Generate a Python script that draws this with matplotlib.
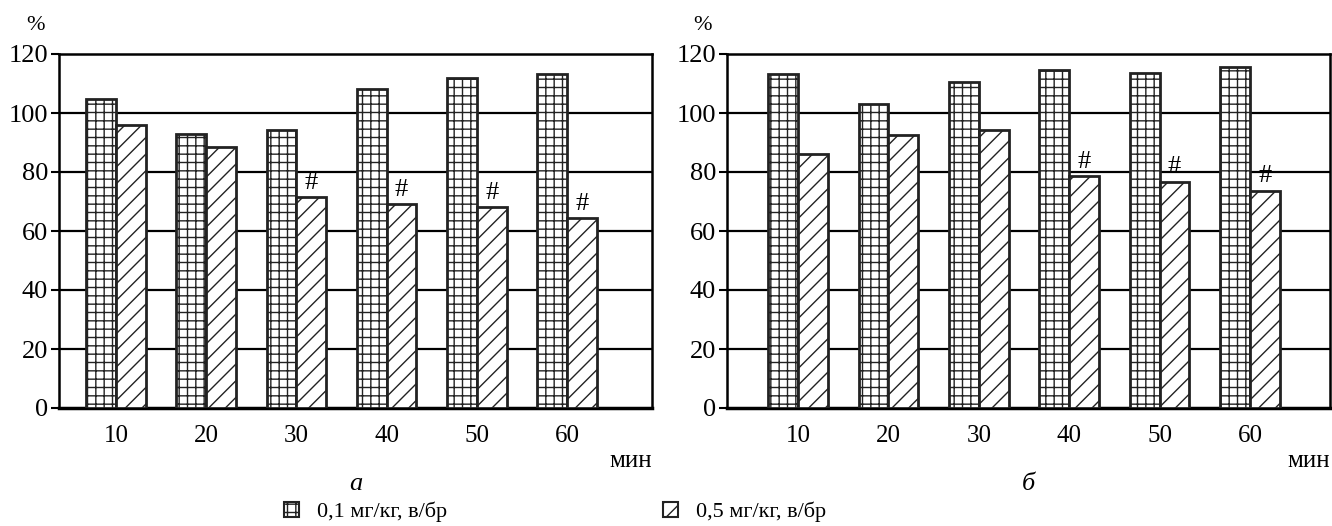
import matplotlib.pyplot as plt
import matplotlib.patches as mpatches

plt.rcParams['font.family'] = ['Liberation Serif', 'DejaVu Serif']
plt.rcParams['hatch.linewidth'] = 1.0

minutes = ['10', '20', '30', '40', '50', '60']
low_a = [104.6, 92.9, 94.2, 108.0, 112.0, 113.3]
high_a = [95.9, 88.6, 71.5, 69.0, 68.0, 64.3]
sig_a = [False, False, True, True, True, True]
low_b = [113.2, 103.0, 110.6, 114.6, 113.4, 115.6]
high_b = [86.0, 92.4, 94.4, 78.6, 76.6, 73.6]
sig_b = [False, False, False, True, True, True]
label_low = '0,1 мг/кг, в/бр'
label_high = '0,5 мг/кг, в/бр'

W, H = 1332, 526
fig = plt.figure(figsize=(W / 100, H / 100), dpi=100)
ax_a = fig.add_axes([59 / W, 1 - 408 / H, 593 / W, 354 / H])
ax_b = fig.add_axes([727 / W, 1 - 408 / H, 603 / W, 354 / H])

bw = 0.33


def draw_panel(ax, low, high, sig, xlim, letter):
    x = list(range(len(minutes)))
    for y in range(20, 120, 20):
        ax.axhline(y, color='black', lw=1.6, zorder=1)
    ax.bar([i - bw / 2 for i in x], low, width=bw, color='white',
           edgecolor='#222222', hatch='++', lw=2, zorder=3)
    ax.bar([i + bw / 2 for i in x], high, width=bw, color='white',
           edgecolor='#222222', hatch='//', lw=2, zorder=3)
    for i, s in enumerate(sig):
        if s:
            ax.text(i + bw / 2, high[i] + 1.2, '#', ha='center',
                    va='bottom', fontsize=19, zorder=4)
    ax.set_xlim(*xlim)
    ax.set_ylim(0, 120)
    ax.set_yticks(range(0, 121, 20))
    ax.set_xticks(x)
    ax.set_xticklabels(minutes)
    ax.tick_params(axis='y', direction='out', length=6, width=1.5,
                   labelsize=19, pad=2)
    ax.tick_params(axis='x', length=0, labelsize=18, pad=12)
    for sp in ax.spines.values():
        sp.set_linewidth(1.8)
    ax.spines['bottom'].set_linewidth(2.5)
    ax.text(1.0, -0.15, 'мин', transform=ax.transAxes, ha='right',
            va='center', fontsize=18)
    ax.text(0.5, -0.215, letter, transform=ax.transAxes, ha='center',
            va='center', fontsize=19, style='italic')
    ax.text(-0.04, 1.08, '%', transform=ax.transAxes, ha='center',
            va='center', fontsize=16)


draw_panel(ax_a, low_a, high_a, sig_a, (-0.632, 5.94), 'а')
draw_panel(ax_b, low_b, high_b, sig_b, (-0.785, 5.885), 'б')

h1 = mpatches.Patch(facecolor='white', edgecolor='#222222', hatch='++',
                    lw=1.5, label=label_low)
h2 = mpatches.Patch(facecolor='white', edgecolor='#222222', hatch='//',
                    lw=1.5, label=label_high)
fig.legend(handles=[h1, h2], loc='center', ncol=2, frameon=False,
           bbox_to_anchor=(555 / W, 1 - 512 / H), fontsize=16,
           handlelength=0.7, handleheight=0.7, handletextpad=0.8,
           columnspacing=9.7)

fig.savefig('out.png', dpi=100)
